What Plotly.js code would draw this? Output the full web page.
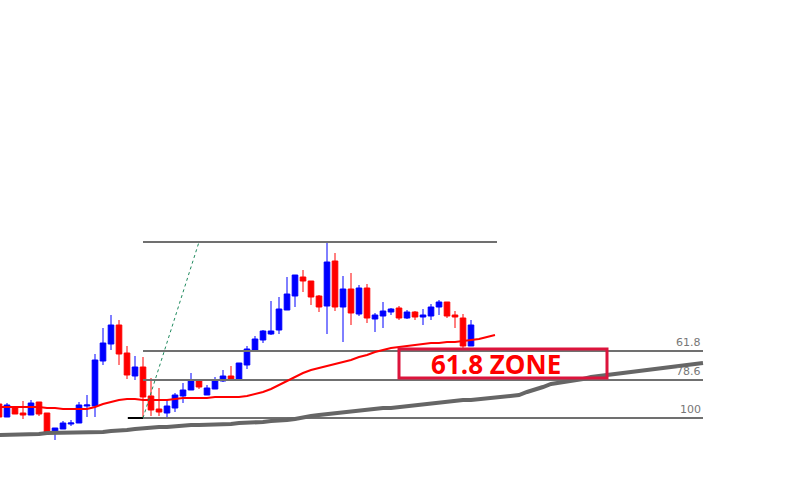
<!DOCTYPE html>
<html>
<head>
<meta charset="utf-8">
<script src="https://cdn.plot.ly/plotly-3.0.1.min.js"></script>
<style>html,body{margin:0;padding:0;background:#fff}#chart{width:800px;height:500px}</style>
</head>
<body>
<div id="chart"></div>
<script>
// Candle data (bar index and OHLC prices)
const candleIdx = Array.from({length: 60}, (_, i) => i);
const openP  = [96,83,92,87,85,98,87,68,71,76,77,94,94,139,156,175,147,124,133,104,91,87,92,104,110,119,105,111,119,124,121,135,150,160,166,170,190,204,223,219,204,194,239,193,211,186,212,181,184,188,192,182,188,183,184,193,198,185,182,154];
const highP  = [98,97,92,99,100,98,87,72,79,80,98,105,146,172,185,180,154,144,143,122,112,100,107,117,127,119,115,123,130,134,137,154,164,170,199,203,223,225,230,219,205,258,247,224,227,215,216,187,198,192,194,190,189,191,196,200,198,189,186,180];
const lowP   = [83,83,86,81,85,84,66,60,71,74,77,83,83,135,150,135,121,120,83,84,84,83,88,97,110,111,105,111,118,119,120,131,150,157,165,166,190,193,208,195,188,166,189,158,175,184,177,168,172,185,180,181,180,175,180,185,182,172,152,154];
const closeP = [83,95,86,85,97,86,68,72,77,77,95,95,140,157,175,146,125,133,103,90,88,94,105,110,119,113,112,120,124,120,137,151,161,169,169,191,206,225,219,203,193,238,193,211,187,212,182,185,189,191,182,188,183,185,193,198,184,183,154,175];

// Red moving average (fast) values, index 0..62
const maFast = [93,93,93,93,93,93,92,92,91,91,91,91,93,96,98,100,101,101,100,100,100,100,101,102,102,102,102,103,103,103,103,104,106,108,111,115,119,123,127,130,132,134,136,138,140,143,145,148,150,152,153,154,155,156,157,157,158,158,159,160,161,163,165];
// Gray moving average (slow) values, index 0..88
const maSlow = [65,65,65,66,66,66,67,67,67,67,67,68,68,68,69,69,70,71,72,73,73,73,74,74,75,75,75,76,76,76,77,77,78,78,79,79,80,81,83,84,85,86,87,88,89,90,90,91,92,92,93,94,95,96,97,97,98,99,100,100,101,102,102,103,104,105,108,110,113,116,117,119,120,121,123,124,125,126,127,128,130,131,132,133,134,135,136,136,137];

// Fibonacci levels
const fibLabels = ["0", "61.8", "78.6", "100"];
const fibPrices = [258, 149, 120, 82];
const fibStart  = [18, 18, 18, 18];
const fibEnd    = [62.25, 88, 88, 88];
const fibShowLabel = [false, true, true, true];

// Swing trend line (dotted) from swing low to swing high
const swingX = [18, 25];
const swingY = [82, 258];

// Zone box
const zoneText = "61.8 ZONE";
const zoneX = [50, 76];
const zoneY = [122, 151];

const idxFast = maFast.map((_, i) => i);
const idxSlow = maSlow.map((_, i) => i);

const traces = [];
fibPrices.forEach((p, k) => {
  traces.push({type: 'scatter', mode: 'lines', x: [fibStart[k], fibEnd[k]], y: [p, p],
    line: {color: '#707070', width: 2}, hoverinfo: 'skip', showlegend: false});
});
// small black stub at left of 100 line
traces.push({type: 'scatter', mode: 'lines', x: [16.1, 18], y: [fibPrices[3], fibPrices[3]],
  line: {color: '#000000', width: 2}, hoverinfo: 'skip', showlegend: false});

traces.push({type: 'candlestick', x: candleIdx, open: openP, high: highP, low: lowP, close: closeP,
  increasing: {line: {color: '#0000ff', width: 1}, fillcolor: '#0000ff'},
  decreasing: {line: {color: '#ff0000', width: 1}, fillcolor: '#ff0000'},
  whiskerwidth: 0, showlegend: false, hoverinfo: 'skip'});

traces.push({type: 'scatter', mode: 'lines', x: idxSlow, y: maSlow,
  line: {color: '#666666', width: 4}, hoverinfo: 'skip', showlegend: false});
traces.push({type: 'scatter', mode: 'lines', x: idxFast, y: maFast,
  line: {color: '#ff0000', width: 2}, hoverinfo: 'skip', showlegend: false});
traces.push({type: 'scatter', mode: 'lines', x: swingX, y: swingY,
  line: {color: '#1f8a5e', width: 1, dash: 'dot'}, hoverinfo: 'skip', showlegend: false});

const annotations = [];
fibPrices.forEach((p, k) => {
  if (!fibShowLabel[k]) return;
  annotations.push({x: fibEnd[k], y: p, xref: 'x', yref: 'y', text: fibLabels[k], showarrow: false,
    xanchor: 'right', yanchor: 'bottom', yshift: 0,
    font: {family: 'DejaVu Sans', size: 11, color: '#777777'}});
});
annotations.push({x: (zoneX[0] + zoneX[1]) / 2, y: (zoneY[0] + zoneY[1]) / 2, xref: 'x', yref: 'y',
  text: '<b>' + zoneText + '</b>', showarrow: false, xanchor: 'center', yanchor: 'middle', xshift: -7,
  font: {family: 'Open Sans', size: 26, color: '#ff0000'}});

const layout = {
  width: 800, height: 500,
  margin: {l: 0, r: 0, t: 0, b: 0},
  paper_bgcolor: '#ffffff', plot_bgcolor: '#ffffff',
  showlegend: false,
  boxgap: 0.3, boxgroupgap: 0,
  xaxis: {range: [0.125, 100.125], visible: false, rangeslider: {visible: false}, fixedrange: true},
  yaxis: {range: [0, 500], visible: false, fixedrange: true},
  shapes: [{type: 'rect', xref: 'x', yref: 'y', x0: zoneX[0], x1: zoneX[1], y0: zoneY[0], y1: zoneY[1],
    line: {color: '#dc143c', width: 3}, fillcolor: 'rgba(0,0,0,0)', layer: 'above'}],
  annotations: annotations
};

Plotly.newPlot('chart', traces, layout, {staticPlot: true, displayModeBar: false});
</script>
</body>
</html>
